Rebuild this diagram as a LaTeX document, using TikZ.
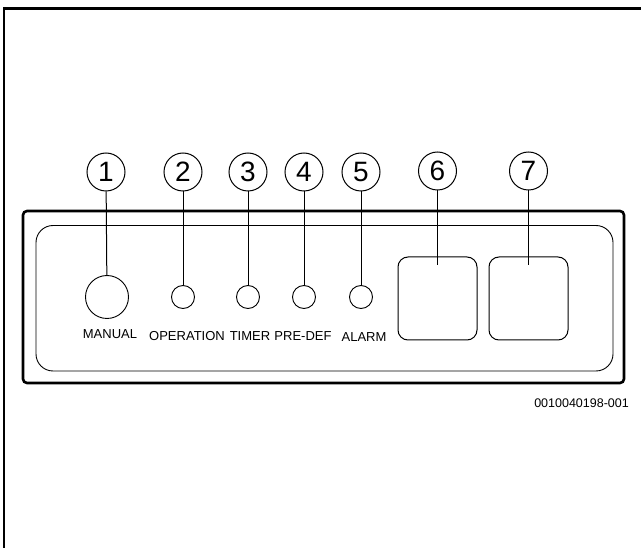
\documentclass[tikz,border=0pt]{standalone}
\usepackage{fontspec}
\setmainfont{Liberation Sans}
\begin{document}
\begin{tikzpicture}[x=1pt,y=-1pt,
  callout/.style={draw,circle,line width=1pt,minimum size=38pt,inner sep=0pt,font=\fontsize{28}{30}\selectfont},
  led/.style={draw,circle,line width=0.9pt,minimum size=23pt,inner sep=0pt},
  bigbtn/.style={draw,circle,line width=0.9pt,minimum size=43pt,inner sep=0pt},
  disp/.style={draw,rounded corners=10pt,line width=1pt,minimum width=79pt,minimum height=83pt,inner sep=0pt},
  lbl/.style={font=\fontsize{13}{15}\selectfont,inner sep=0pt},
  lead/.style={line width=1pt}]
\useasboundingbox (0,0) rectangle (641,548);
% frame (top and left)
\draw[line width=2.5pt] (4,548) -- (4,8.7) -- (641,8.7);
% panel
\draw[line width=2.6pt,rounded corners=4pt] (23,211) rectangle (624,383);
\draw[line width=0.9pt,rounded corners=17pt] (36,225.5) rectangle (613,371);
% controls
\node[bigbtn] (b1) at (107,297) {};
\node[led] (b2) at (183,297) {};
\node[led] (b3) at (248,297) {};
\node[led] (b4) at (304,297) {};
\node[led] (b5) at (361,297) {};
\node[disp] (b6) at (437.5,298.5) {};
\node[disp] (b7) at (528.5,298.5) {};
% labels
\node[lbl] (l1) at (110,334) {MANUAL};
\node[lbl] (l2) at (187,336) {OPERATION};
\node[lbl] (l3) at (250,336) {TIMER};
\node[lbl] (l4) at (303,336) {PRE-DEF};
\node[lbl] (l5) at (364,337) {ALARM};
% callouts
\node[callout] (c1) at (106,172) {1};
\node[callout] (c2) at (183,172) {2};
\node[callout] (c3) at (248,172) {3};
\node[callout] (c4) at (304,172) {4};
\node[callout] (c5) at (361,172) {5};
\node[callout] (c6) at (437.5,171) {6};
\node[callout] (c7) at (528.5,171) {7};
\coordinate (e6) at (437.5,265);
\coordinate (e7) at (528.5,265);
\draw[lead] (c1) -- (b1);
\draw[lead] (c2) -- (b2);
\draw[lead] (c3) -- (b3);
\draw[lead] (c4) -- (b4);
\draw[lead] (c5) -- (b5);
\draw[lead] (c6) -- (e6);
\draw[lead] (c7) -- (e7);
% code
\node[lbl,anchor=east,font=\fontsize{12.5}{14}\selectfont] (code) at (629,403) {0010040198-001};
\end{tikzpicture}
\end{document}
